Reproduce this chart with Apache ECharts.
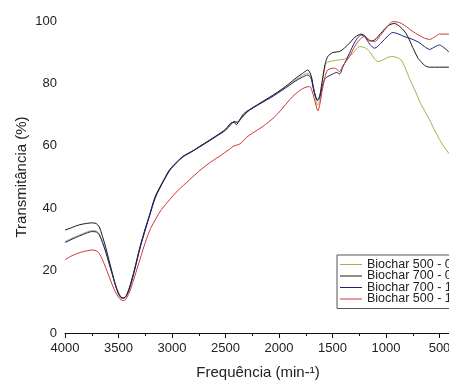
<!DOCTYPE html>
<html><head><meta charset="utf-8">
<script src="https://cdn.jsdelivr.net/npm/echarts@6/dist/echarts.min.js"></script>
<style>html,body{margin:0;padding:0;background:#fff}#c{width:449px;height:383px}</style>
</head><body><div id="c"></div>
<script>
const seriesNames = ["Biochar 500 - 05", "Biochar 700 - 05", "Biochar 700 - 15", "Biochar 500 - 15"];
const xTicks = [4000, 3500, 3000, 2500, 2000, 1500, 1000, 500];
const yTicks = [0, 20, 40, 60, 80, 100];

const green500_05 = [[4000,29.3],[3950,30.1],[3900,30.9],[3850,31.6],[3800,32.3],[3750,32.8],[3710,32.7],[3680,31.8],[3650,29.3],[3620,26.3],[3590,22.8],[3560,19.2],[3530,15.7],[3500,12.9],[3470,11.4],[3450,11.3],[3420,12.4],[3390,15.2],[3350,20.3],[3300,27.3],[3250,33.3],[3210,37.7],[3160,43.2],[3117,46.4],[3070,49.4],[3023,52.2],[2950,54.9],[2899,56.5],[2800,58.5],[2743,59.7],[2650,61.7],[2587,63.1],[2500,65.1],[2450,67],[2420,67.6],[2390,67.4],[2350,68.8],[2300,70.7],[2276,71.4],[2200,73.1],[2120,74.7],[2050,76.2],[1980,77.8],[1902,79.6],[1850,81],[1780,82.5],[1731,83.3],[1700,82],[1680,79],[1660,75.5],[1640,73],[1620,74.5],[1600,79],[1575,84.5],[1559,86.5],[1500,87.2],[1450,87.5],[1372,88],[1300,90],[1248,91.8],[1200,91.5],[1154,90.2],[1110,88],[1077,87],[1030,87.5],[980,88.4],[936,88.6],[890,88.2],[858,87.5],[820,85],[780,81.5],[718,76.9],[680,73.8],[640,71.3],[600,68.8],[563,66.2],[530,64],[500,62],[460,59.8],[416,57.7],[400,57]];

const black700_05 = [[4000,33],[3950,33.6],[3900,34.3],[3850,34.8],[3800,35.1],[3750,35.3],[3710,35.1],[3680,34],[3650,31],[3620,27.5],[3590,23.5],[3560,19.5],[3530,15.5],[3500,12.5],[3470,11.2],[3450,11.2],[3420,12.5],[3390,15.5],[3350,20.5],[3300,27.5],[3250,33.5],[3210,37.8],[3160,43.5],[3117,46.5],[3070,49.5],[3023,52.3],[2950,55],[2899,56.6],[2800,58.5],[2743,59.8],[2650,61.8],[2587,63.2],[2500,65.3],[2450,67.3],[2420,67.5],[2400,66.8],[2370,68.2],[2330,70.3],[2276,71.6],[2200,73.2],[2120,74.9],[2050,76.4],[1980,78],[1902,80],[1850,81.5],[1780,83.2],[1731,84.3],[1700,82.5],[1680,79],[1660,76],[1640,74.7],[1620,76],[1600,80],[1570,86],[1544,88.6],[1497,89.9],[1435,90.2],[1390,91.3],[1341,92.9],[1290,94.8],[1232,95.8],[1200,95.3],[1150,93.6],[1107,93.9],[1050,96],[980,98.5],[921,99.2],[870,98.2],[830,96.8],[796,95],[750,91.5],[700,88],[687,87.5],[640,85.8],[593,85.2],[500,85.2],[416,85.2],[400,85.2]];

const blue700_15 = [[4000,29],[3950,29.8],[3900,30.6],[3850,31.3],[3800,32],[3750,32.5],[3710,32.4],[3680,31.5],[3650,29],[3620,26],[3590,22.5],[3560,19],[3530,15.5],[3500,12.8],[3470,11.3],[3450,11.2],[3420,12.3],[3390,15],[3350,20],[3300,27],[3250,33],[3210,37.5],[3160,43],[3117,46.2],[3070,49.2],[3023,52],[2950,54.8],[2899,56.4],[2800,58.4],[2743,59.6],[2650,61.6],[2587,63],[2500,65],[2450,66.8],[2420,67.8],[2390,67.6],[2350,69],[2300,70.8],[2276,71.4],[2200,73],[2120,74.6],[2050,76],[1980,77.6],[1902,79.4],[1850,80.7],[1780,82],[1731,82.7],[1700,81.5],[1680,78.5],[1660,76],[1640,74.5],[1620,75.5],[1600,78.5],[1570,81.5],[1544,82.2],[1497,83],[1460,83.5],[1435,83],[1400,85.5],[1341,89.7],[1290,93.3],[1232,95.5],[1200,95],[1150,92.5],[1107,91.3],[1050,92.8],[980,95.3],[936,96.3],[880,95.8],[830,95],[780,94.5],[700,93.3],[640,91.8],[593,90.9],[540,91.8],[500,92.3],[460,91.5],[416,90.2],[400,89.8]];

const red500_15 = [[4000,23.5],[3950,24.5],[3900,25.3],[3850,25.9],[3800,26.3],[3750,26.6],[3710,26.4],[3680,25.5],[3650,23.5],[3620,21],[3590,18.3],[3560,15.6],[3530,13.2],[3500,11.5],[3470,10.5],[3450,10.4],[3420,11.5],[3390,13.8],[3350,18],[3300,23.5],[3250,29],[3200,33.5],[3148,36.8],[3100,39.5],[3023,42.7],[2950,45.5],[2836,49.1],[2750,51.8],[2650,54.5],[2550,56.8],[2463,58.9],[2420,60],[2385,60.3],[2350,61],[2307,62.6],[2250,64],[2151,66.2],[2050,69],[1980,71.5],[1902,74.7],[1850,76.5],[1780,78.3],[1715,79],[1690,77.5],[1670,75],[1650,72.5],[1637,71.2],[1620,73],[1600,77],[1570,82],[1544,84.3],[1481,84.9],[1450,84.2],[1435,83.8],[1400,85.8],[1341,88.6],[1290,92],[1232,94.5],[1200,95],[1150,93.8],[1107,93.4],[1050,95.5],[980,98.5],[936,99.8],[874,99.5],[810,98.2],[749,96.6],[700,95.6],[640,94.5],[593,94.1],[540,95],[500,95.8],[416,95.8],[400,95.8]];

const seriesData = [green500_05, black700_05, blue700_15, red500_15];
const colors = ["#a3b24a", "#1a1a1a", "#1e1e78", "#d2363a"];

const FONT = "Liberation Sans, Arial, sans-serif";
const chart = echarts.init(document.getElementById('c'), null, {renderer: 'canvas'});
chart.setOption({
  animation: false,
  backgroundColor: '#fff',
  grid: {left: 65, top: 21, width: 428, height: 312, containLabel: false, outerBoundsMode: 'none'},
  xAxis: {
    type: 'value', inverse: true, min: 0, max: 4000, interval: 500,
    name: 'Frequência (min-¹)', nameLocation: 'middle', nameGap: 32,
    nameTextStyle: {fontFamily: FONT, fontSize: 15, color: '#222', padding: [0, 42, 0, 0]},
    axisLine: {show: true, onZero: false, lineStyle: {color: '#111', width: 1}},
    axisTick: {show: true, length: 5, lineStyle: {color: '#111'}},
    minorTick: {show: true, splitNumber: 2, length: 3, lineStyle: {color: '#111'}},
    splitLine: {show: false},
    axisLabel: {fontFamily: FONT, fontSize: 13, color: '#222', margin: 9,
      formatter: v => xTicks.includes(v) ? String(v) : ''}
  },
  yAxis: {
    type: 'value', min: 0, max: 100, interval: 20,
    name: 'Transmitância (%)', nameLocation: 'middle', nameGap: 36, nameMoveOverlap: false,
    nameTextStyle: {fontFamily: FONT, fontSize: 15, color: '#222'},
    axisLine: {show: true, lineStyle: {color: '#111', width: 1}},
    axisTick: {show: true, length: 5, lineStyle: {color: '#111'}},
    minorTick: {show: true, splitNumber: 2, length: 3, lineStyle: {color: '#111'}},
    splitLine: {show: false},
    axisLabel: {fontFamily: FONT, fontSize: 13, color: '#222', margin: 8,
      formatter: v => yTicks.includes(v) ? String(v) : ''}
  },
  legend: {
    orient: 'vertical', left: 337, top: 255,
    icon: 'rect', itemWidth: 22, itemHeight: 1, itemGap: -1.5,
    padding: [3, 4, 3, 3],
    borderColor: '#555', borderWidth: 1, backgroundColor: '#fff',
    textStyle: {fontFamily: FONT, fontSize: 12.5, color: '#222'},
    data: seriesNames.map((n, i) => ({name: n, itemStyle: {color: colors[i], borderWidth: 0}}))
  },
  series: seriesNames.map((n, i) => ({
    name: n, type: 'line', data: seriesData[i], symbol: 'none',
    smooth: 0.3, lineStyle: {width: 1, color: colors[i]}, itemStyle: {color: colors[i]},
    clip: false
  }))
});
</script></body></html>
